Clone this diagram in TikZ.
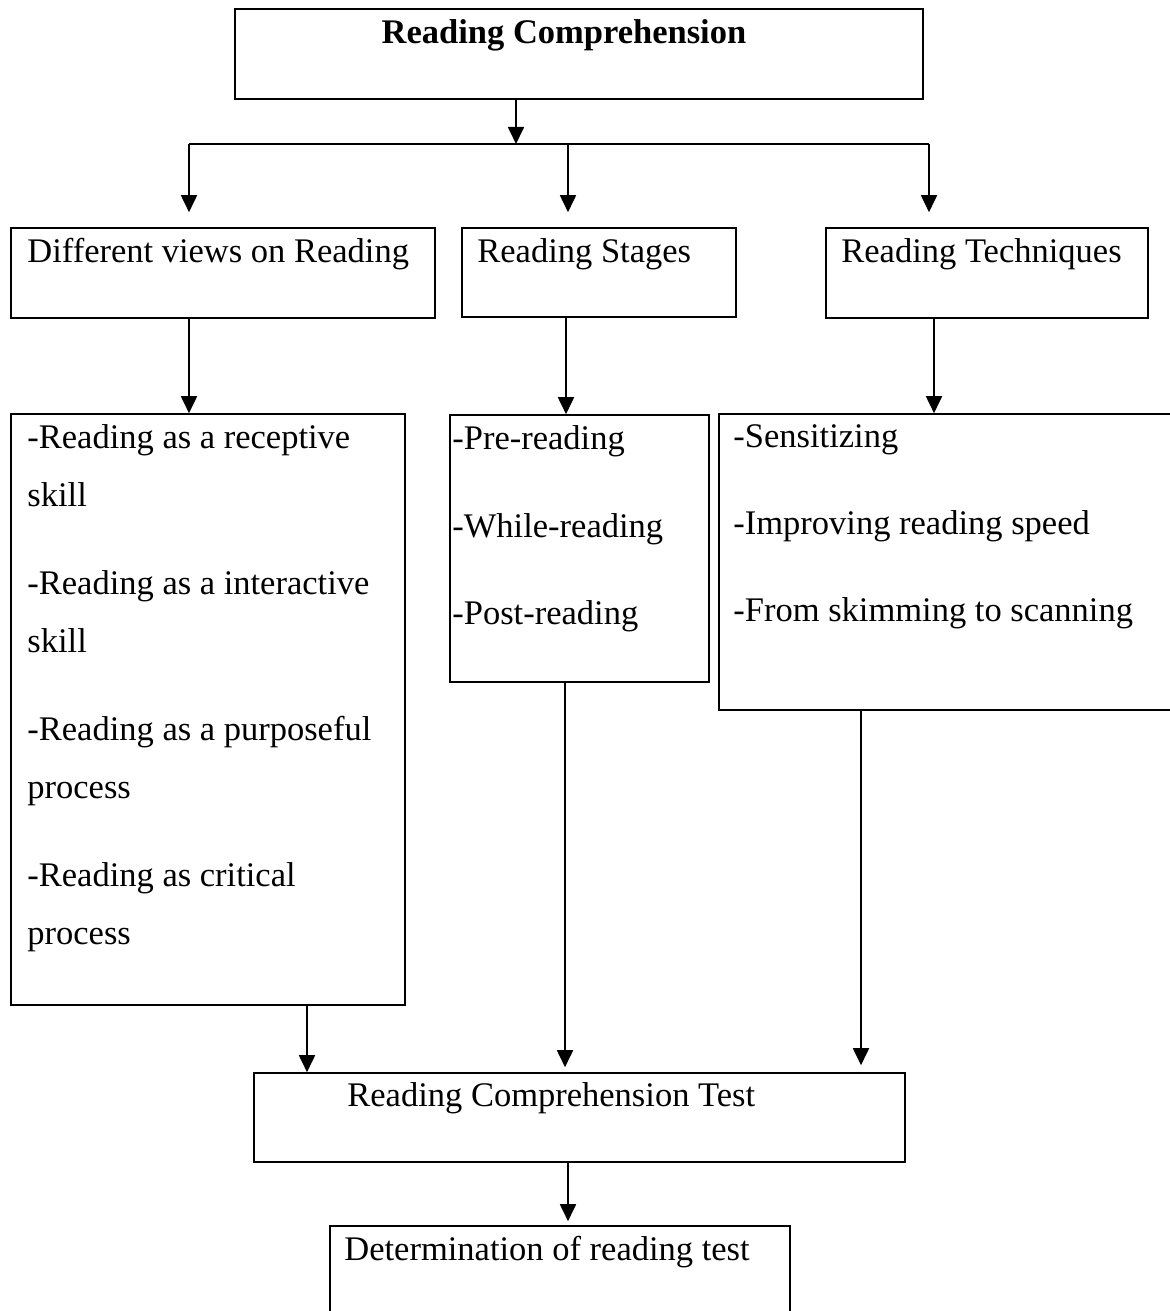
\documentclass[tikz,border=0pt]{standalone}
\usepackage{fontspec}
\setmainfont{Liberation Serif}
\usetikzlibrary{arrows.meta,fit}

\begin{document}
\begin{tikzpicture}[
  x=0.5pt, y=-0.5pt,
  font=\fontsize{17.25}{29}\selectfont,
  box/.style={draw, line width=0.8pt, inner sep=0pt},
  txt/.style={anchor=base west, inner sep=0pt},
  flow/.style={-{Triangle[length=8.5pt,width=8pt]}, line width=0.9pt}
]
\useasboundingbox (0,0) rectangle (1170,1311);
\clip (0,0) rectangle (1170,1311);
% boxes
\node[box, fit={(235,9) (923,99)}]      (rc) {};
\node[box, fit={(11,228) (435,318)}]    (views) {};
\node[box, fit={(462,228) (736,317)}]   (stages) {};
\node[box, fit={(826,228) (1148,318)}]  (tech) {};
\node[box, fit={(11,414) (405,1005)}]   (viewlist) {};
\node[box, fit={(450,415) (709,682)}]   (stagelist) {};
\node[box, fit={(719,414) (1190,710)}]  (techlist) {};
\node[box, fit={(254,1073) (905,1162)}] (rct) {};
\node[box, fit={(330,1226) (790,1340)}] (det) {};
% texts
\node[anchor=base, inner sep=0pt, font=\fontsize{17.25}{29}\selectfont\bfseries]
  (rctitle) at (564,44) {Reading Comprehension};
\node[txt] (viewstitle)  at (27,262)  {Different views on Reading};
\node[txt] (stagestitle) at (477,262) {Reading Stages};
\node[txt] (techtitle)   at (841,262) {Reading Techniques};
\foreach \line/\y [count=\i] in {{-Reading as a receptive}/448, skill/506,
    {-Reading as a interactive}/594, skill/652, {-Reading as a purposeful}/740,
    process/798, {-Reading as critical}/886, process/944}
  \node[txt] (view\i) at (27,\y) {\line};
\foreach \line/\y [count=\i] in {-Pre-reading/449, -While-reading/537, -Post-reading/624}
  \node[txt] (stage\i) at (452,\y) {\line};
\foreach \line/\y [count=\i] in {-Sensitizing/447, {-Improving reading speed}/534,
    {-From skimming to scanning}/621}
  \node[txt] (tech\i) at (733,\y) {\line};
\node[txt] (rcttitle) at (347,1106) {Reading Comprehension Test};
\node[txt] (dettitle) at (344,1260) {Determination of reading test};
% connectors
\coordinate (bus)  at (516,144);
\coordinate (busL) at (189,144);
\coordinate (busM) at (568,144);
\coordinate (busR) at (929,144);
\coordinate (xb) at (566,0);
\coordinate (xc) at (934,0);
\coordinate (xa2) at (307,0);
\coordinate (xb2) at (565,0);
\coordinate (xc2) at (861,0);
\draw[flow] (rc.south -| bus) -- (bus);
\draw[line width=1pt] (busL) -- (busR);
\draw[flow, shorten >=7.5pt] (busL) -- (busL |- views.north);
\draw[flow, shorten >=7.5pt] (busM) -- (busM |- stages.north);
\draw[flow, shorten >=7.5pt] (busR) -- (busR |- tech.north);
\draw[flow] (views.south -| busL) -- (viewlist.north -| busL);
\draw[flow] (stages.south -| xb) -- (stagelist.north -| xb);
\draw[flow] (tech.south -| xc) -- (techlist.north -| xc);
\draw[flow] (viewlist.south -| xa2) -- (rct.north -| xa2);
\draw[flow, shorten >=2.5pt] (stagelist.south -| xb2) -- (rct.north -| xb2);
\draw[flow, shorten >=3.5pt] (techlist.south -| xc2) -- (rct.north -| xc2);
\draw[flow, shorten >=2pt] (rct.south -| busM) -- (det.north -| busM);
\end{tikzpicture}
\end{document}
